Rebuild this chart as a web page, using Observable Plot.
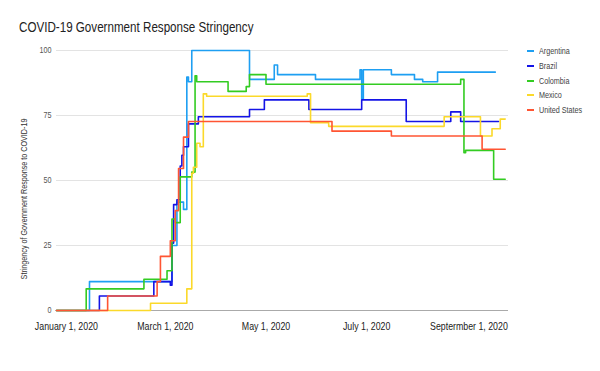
<!DOCTYPE html>
<html>
<head>
<meta charset="utf-8">
<script src="https://cdn.jsdelivr.net/npm/d3@7"></script>
<script src="https://cdn.jsdelivr.net/npm/@observablehq/plot@0.6"></script>
<style>
  html, body { margin: 0; padding: 0; background: #fff; }
  #wrap { position: relative; width: 600px; height: 371px; overflow: hidden;
          font-family: "Liberation Sans", Arial, sans-serif; }
  #title { position: absolute; left: 19px; top: 20px; font-size: 14px; line-height: 14px;
           color: #222; white-space: nowrap; transform: scaleX(0.83); transform-origin: 0 50%; }
  #chart { position: absolute; left: 0; top: 0; }
  .sw { position: absolute; left: 527px; width: 7px; height: 2px; }
  .lt { position: absolute; left: 539px; font-size: 9px; line-height: 10px; color: #444; white-space: nowrap;
        transform: scaleX(0.8); transform-origin: 0 50%; }
</style>
</head>
<body>
<div id="wrap">
  <div id="chart"></div>
  <div id="title"></div>
  <div id="legend"></div>
</div>
<script>
const titleText = "COVID-19 Government Response Stringency";
const yTitle = "Stringency of Government Response to COVID-19";
const countries = ["Argentina", "Brazil", "Colombia", "Mexico", "United States"];
const colors = ["#1e9ff2", "#1414e6", "#33cc22", "#fbd92a", "#ff5533"];

const yTicks = [0, 25, 50, 75, 100];
const xTickDates = ["2020-01-01", "2020-03-01", "2020-05-01", "2020-07-01", "2020-09-01"];
const xTickLabels = ["January 1, 2020", "March 1, 2020", "May 1, 2020", "July 1, 2020", "Septermber 1, 2020"];
const xDomain = ["2019-12-26", "2020-09-25"];

const argentinaDates = ["2019-12-26","2020-01-15","2020-03-05","2020-03-08","2020-03-12","2020-03-14","2020-03-15","2020-03-17","2020-04-21","2020-05-06","2020-05-08","2020-05-31","2020-06-27","2020-06-28","2020-06-29","2020-07-16","2020-07-30","2020-08-04","2020-08-13","2020-09-17"];
const argentinaValues = [0,11.11,25,41.67,38.89,89.81,87.96,100,88.89,94.44,90.74,88.89,92.59,81.48,92.59,90.74,88.89,87.96,91.67,91.67];

const brazilDates = ["2019-12-26","2020-01-21","2020-02-23","2020-03-04","2020-03-05","2020-03-06","2020-03-08","2020-03-10","2020-03-11","2020-03-12","2020-03-15","2020-03-21","2020-04-21","2020-04-30","2020-05-27","2020-06-28","2020-07-25","2020-08-21","2020-08-27","2020-09-19"];
const brazilValues = [0,5.56,11.11,9.72,25.93,40.74,42.59,55.56,59.72,62.96,71.76,74.54,77.31,81.02,77.31,81.02,72.69,76.39,72.69,72.69];

const colombiaDates = ["2019-12-26","2020-01-13","2020-02-17","2020-03-02","2020-03-05","2020-03-07","2020-03-10","2020-03-17","2020-03-19","2020-03-20","2020-04-08","2020-04-19","2020-04-21","2020-05-01","2020-08-27","2020-08-29","2020-08-30","2020-09-16","2020-09-23"];
const colombiaValues = [0,8.33,12.04,15.28,35.19,33.8,51.39,53.24,90.28,87.96,84.26,86.11,90.74,87.04,88.89,60.65,61.57,50.46,50.46];

const mexicoDates = ["2019-12-26","2020-02-21","2020-03-14","2020-03-17","2020-03-18","2020-03-20","2020-03-22","2020-03-24","2020-03-26","2020-05-26","2020-05-28","2020-06-08","2020-08-17","2020-09-08","2020-09-15","2020-09-20","2020-09-23"];
const mexicoValues = [0,2.78,8.33,52.78,55.09,64.35,62.96,83.33,82.41,83.33,72.22,70.83,74.54,67.13,69.91,73.61,73.61];

const usDates = ["2019-12-26","2020-01-26","2020-02-25","2020-02-27","2020-03-04","2020-03-07","2020-03-09","2020-03-12","2020-03-15","2020-06-10","2020-07-16","2020-09-09","2020-09-23"];
const usValues = [0,5.56,11.11,20.83,26.85,38.43,54.63,66.67,72.69,68.98,67.13,62.04,62.04];

const series = [
  ["Argentina", argentinaDates, argentinaValues],
  ["Brazil", brazilDates, brazilValues],
  ["Colombia", colombiaDates, colombiaValues],
  ["Mexico", mexicoDates, mexicoValues],
  ["United States", usDates, usValues]
];

const rows = [];
series.forEach(([name, dates, values]) => {
  dates.forEach((d, i) => rows.push({country: name, date: new Date(d), value: values[i]}));
});

const tickTimes = xTickDates.map(d => new Date(d));
const fmtX = d => {
  const i = tickTimes.findIndex(t => t.getTime() === +d);
  return i >= 0 ? xTickLabels[i] : "";
};

const chart = Plot.plot({
  width: 600,
  height: 371,
  marginLeft: 56,
  marginRight: 92,
  marginTop: 50,
  marginBottom: 61,
  style: {fontFamily: '"Liberation Sans", Arial, sans-serif', background: "transparent"},
  x: {type: "utc", domain: xDomain.map(d => new Date(d))},
  y: {domain: [0, 100]},
  color: {domain: countries, range: colors},
  marks: [
    Plot.gridY(yTicks.filter(v => v > 0), {stroke: "#e3e3e3", strokeOpacity: 1}),
    Plot.ruleY([0], {stroke: "#aaaaaa"}),
    Plot.axisY(yTicks, {tickSize: 0, tickPadding: 5, fontSize: 9, fill: "#555", label: null}),
    Plot.axisX(tickTimes, {tickSize: 0, tickPadding: 12, fontSize: 11, fill: "#222", tickFormat: fmtX, label: null}),
    Plot.line(rows, {x: "date", y: "value", z: "country", stroke: "country", curve: "step-after", strokeWidth: 1.6})
  ]
});

// compress axis tick labels horizontally around their anchors
d3.select(chart).selectAll("g[aria-label='x-axis tick label'] text, g[aria-label='y-axis tick label'] text")
  .each(function() {
    const t = this.getAttribute("transform") || "";
    this.setAttribute("transform", (t + " scale(0.8,1)").trim());
  });

// y-axis title
d3.select(chart).append("text")
  .attr("transform", "translate(24,199) rotate(-90) scale(0.8,1)")
  .attr("text-anchor", "middle")
  .attr("dy", "0.32em")
  .attr("font-size", 9)
  .attr("fill", "#333")
  .text(yTitle);

document.getElementById("chart").appendChild(chart);
document.getElementById("title").textContent = titleText;

const legend = document.getElementById("legend");
countries.forEach((c, i) => {
  const y = 50.7 + i * 14.9;
  const sw = document.createElement("div");
  sw.className = "sw";
  sw.style.top = (y - 1) + "px";
  sw.style.background = colors[i];
  legend.appendChild(sw);
  const t = document.createElement("div");
  t.className = "lt";
  t.style.top = (y - 5) + "px";
  t.textContent = c;
  legend.appendChild(t);
});
</script>
</body>
</html>
